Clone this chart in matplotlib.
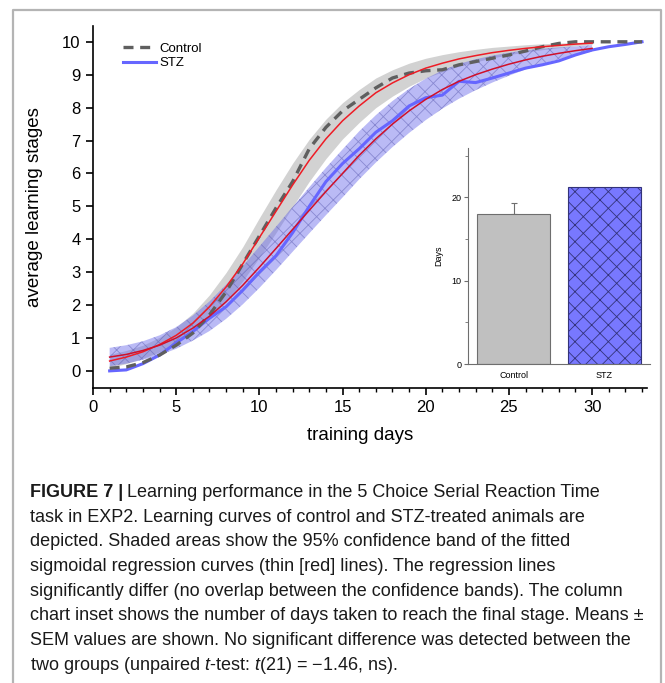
import numpy as np
import matplotlib.pyplot as plt
from matplotlib.lines import Line2D
from matplotlib.ticker import MultipleLocator

plt.rcParams['font.family'] = ['Liberation Sans', 'DejaVu Sans']
plt.rcParams['mathtext.fontset'] = 'custom'
plt.rcParams['mathtext.rm'] = 'Liberation Sans'
plt.rcParams['mathtext.it'] = 'Liberation Sans:italic'
plt.rcParams['hatch.linewidth'] = 0.6

# mean learning stage per training day
days = np.arange(1, 34)
control_mean = [0.08, 0.12, 0.25, 0.48, 0.78, 1.15, 1.70, 2.40, 3.25, 4.10, 4.95, 5.75, 6.75, 7.40, 7.90,
                8.25, 8.60, 8.90, 9.05, 9.12, 9.15, 9.30, 9.40, 9.50, 9.60, 9.72, 9.85, 9.95, 10.0, 10.0,
                10.0, 10.0, 10.0]
stz_mean = [0.00, 0.03, 0.22, 0.48, 0.85, 1.20, 1.60, 1.95, 2.45, 3.00, 3.50, 4.20, 5.00, 5.75, 6.30,
            6.75, 7.25, 7.60, 8.05, 8.30, 8.38, 8.80, 8.76, 8.90, 9.05, 9.20, 9.30, 9.42, 9.60, 9.75,
            9.85, 9.92, 10.0]

# sigmoidal fits and half-width of their 95% confidence bands
fit_days = np.arange(1, 31)
control_fit = [0.30, 0.42, 0.58, 0.80, 1.08, 1.45, 1.95, 2.55, 3.25, 4.05, 4.85, 5.65, 6.40, 7.05, 7.60,
               8.05, 8.45, 8.75, 9.00, 9.20, 9.35, 9.48, 9.58, 9.67, 9.74, 9.80, 9.85, 9.89, 9.93, 9.96]
control_ci = [0.20, 0.20, 0.20, 0.22, 0.25, 0.30, 0.36, 0.44, 0.52, 0.60, 0.65, 0.66, 0.64, 0.60, 0.55,
              0.50, 0.45, 0.40, 0.35, 0.30, 0.26, 0.22, 0.19, 0.16, 0.13, 0.11, 0.09, 0.07, 0.05, 0.04]
stz_fit = [0.42, 0.50, 0.62, 0.78, 1.00, 1.30, 1.66, 2.10, 2.60, 3.15, 3.72, 4.30, 4.88, 5.45, 6.00,
           6.55, 7.05, 7.50, 7.90, 8.25, 8.55, 8.80, 9.00, 9.17, 9.32, 9.45, 9.56, 9.65, 9.73, 9.80]
stz_ci = [0.28, 0.28, 0.28, 0.30, 0.33, 0.38, 0.45, 0.52, 0.58, 0.63, 0.66, 0.68, 0.70, 0.72, 0.73,
          0.73, 0.72, 0.70, 0.67, 0.63, 0.58, 0.53, 0.47, 0.41, 0.35, 0.29, 0.23, 0.18, 0.13, 0.10]

# days needed to reach the final stage
groups = ['Control', 'STZ']
days_to_final = [18.0, 21.2]
days_sem = [1.3, 0.0]

caption = [
    "task in EXP2. Learning curves of control and STZ-treated animals are",
    "depicted. Shaded areas show the 95% confidence band of the fitted",
    "sigmoidal regression curves (thin [red] lines). The regression lines",
    "significantly differ (no overlap between the confidence bands). The column",
    "chart inset shows the number of days taken to reach the final stage. Means \u00b1",
    "SEM values are shown. No significant difference was detected between the",
    "two groups (unpaired $t$-test: $t$(21) = \u22121.46, ns).",
]

W, H = 665, 683
fig = plt.figure(figsize=(W / 100, H / 100), dpi=100)

ax = fig.add_axes([93 / W, 1 - 388 / H, 554 / W, 362 / H])
cf, cc = np.array(control_fit), np.array(control_ci)
sf, sc = np.array(stz_fit), np.array(stz_ci)
ax.fill_between(fit_days, cf - cc, cf + cc, color='#d2d2d2', lw=0, zorder=1)
ax.fill_between(fit_days, sf - sc, sf + sc, facecolor=(0.40, 0.40, 0.92, 0.45),
                edgecolor=(0.30, 0.30, 0.65, 0.45), hatch='xx', lw=0, zorder=2)
ax.plot(days, stz_mean, color='#6666ff', lw=2.2, zorder=3)
ax.plot(days, control_mean, color='#5f5f5f', lw=2.4, dashes=(3, 2), zorder=4)
ax.plot(fit_days, control_fit, color='#ee1c25', lw=1.1, zorder=5)
ax.plot(fit_days, stz_fit, color='#d0102a', lw=1.1, zorder=5)

ax.set_xlim(0, 33.3)
ax.set_ylim(-0.52, 10.48)
ax.set_yticks(range(0, 11))
ax.xaxis.set_major_locator(MultipleLocator(5))
ax.xaxis.set_minor_locator(MultipleLocator(1))
for s in ['top', 'right']:
    ax.spines[s].set_visible(False)
for s in ['left', 'bottom']:
    ax.spines[s].set_linewidth(1.2)
ax.tick_params(which='major', direction='out', length=5, width=1.2, labelsize=12, pad=4)
ax.tick_params(which='minor', direction='out', length=3, width=1.0)
ax.set_xlabel('training days', fontsize=13.5)
ax.set_ylabel('average learning stages', fontsize=13.5)
ax.xaxis.set_label_coords((360 - 93) / 554, (388 - 435) / 362)
ax.xaxis.label.set_va('center')
ax.yaxis.set_label_coords((35 - 93) / 554, 0.5)
ax.yaxis.label.set_va('center')

handles = [Line2D([], [], color='#5f5f5f', lw=2.4, dashes=(3, 2)),
           Line2D([], [], color='#6666ff', lw=2.2)]
ax.legend(handles, groups, loc='upper left', bbox_to_anchor=(0.055, 0.955), frameon=False,
          fontsize=9.5, handlelength=2.5, handletextpad=0.2, labelspacing=0.2,
          borderpad=0, borderaxespad=0)

# inset: days to reach the final stage
axi = fig.add_axes([468 / W, 1 - 364 / H, 182 / W, 216 / H])
bars = axi.bar([0, 1], days_to_final, width=0.8, color=['#c0c0c0', '#7878ff'],
               edgecolor=['#6e6e6e', '#33337a'], lw=0.8, zorder=2)
bars[1].set_hatch('xx')
axi.errorbar([0], [days_to_final[0]], yerr=[[0], [days_sem[0]]], fmt='none',
             ecolor='#6e6e6e', elinewidth=0.8, capsize=2, capthick=0.8, zorder=1)
axi.set_xlim(-0.5, 1.5)
axi.set_ylim(0, 25.9)
axi.set_xticks([0, 1])
axi.set_xticklabels(groups)
axi.set_yticks([0, 10, 20])
axi.yaxis.set_minor_locator(MultipleLocator(5))
for s in ['top', 'right']:
    axi.spines[s].set_visible(False)
for s in ['left', 'bottom']:
    axi.spines[s].set_color('#6e6e6e')
    axi.spines[s].set_linewidth(0.8)
axi.tick_params(axis='y', which='major', direction='out', length=3, width=0.8, color='#6e6e6e',
                labelsize=6.5, pad=1.5)
axi.tick_params(axis='y', which='minor', direction='out', length=2, width=0.6, color='#6e6e6e')
axi.tick_params(axis='x', length=0, labelsize=6.5, pad=5)
axi.set_ylabel('Days', fontsize=6.5, labelpad=6)
axi.patch.set_alpha(0)

# page frame
fig.add_artist(Line2D([13 / W, 13 / W, 661 / W, 661 / W], [0, 1 - 10 / H, 1 - 10 / H, 0],
                      transform=fig.transFigure, color='#b4b4b4', lw=1.6))

# caption
fs = 13.0
x0 = 30 / W
base = 497
step = 24.7
head = fig.text(x0, 1 - base / H, 'FIGURE 7 |', fontsize=fs, weight='bold', color='#1a1a1a',
                va='baseline')
r = fig.canvas.get_renderer()
hx = head.get_window_extent(r).x1 / W
fig.text(hx + 4 / W, 1 - base / H, 'Learning performance in the 5 Choice Serial Reaction Time',
         fontsize=fs, color='#1a1a1a', va='baseline')
for i, line in enumerate(caption, start=1):
    fig.text(x0, 1 - (base + step * i) / H, line, fontsize=fs, color='#1a1a1a', va='baseline')

fig.savefig('out.png', dpi=100)
